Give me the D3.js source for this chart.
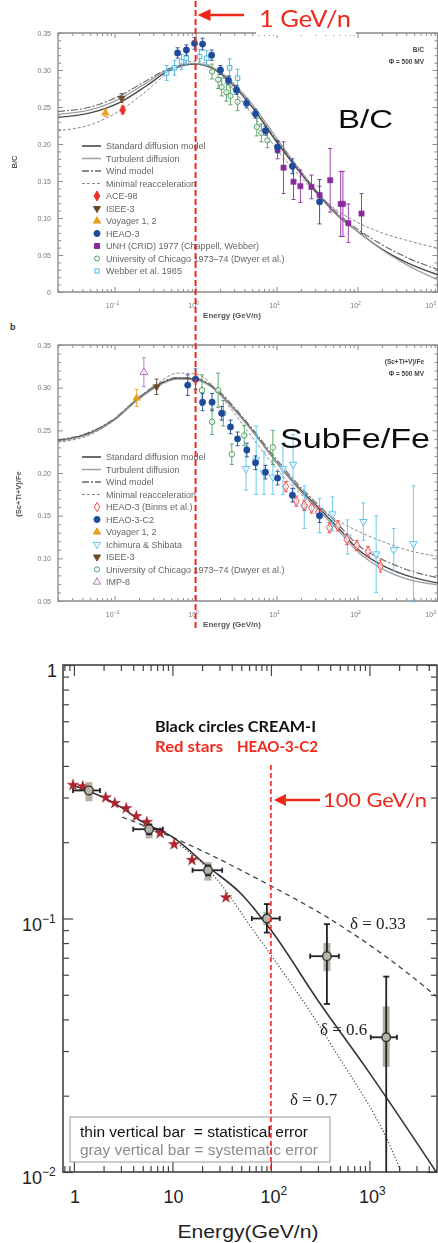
<!DOCTYPE html>
<html><head><meta charset="utf-8">
<script src="https://cdn.jsdelivr.net/npm/d3@7"></script>
<style>body{margin:0;background:#fff} svg{display:block}</style>
</head><body>
<svg id="c" width="438" height="1243"></svg>
<script>
// ================= DATA =================
// ---- Panel a : B/C ----
const topXMajor = [0.1, 1, 10, 100, 1000];
const topXExp = ["-1", "0", "1", "2", "3"];
const bcYTicks = [0, 0.05, 0.10, 0.15, 0.20, 0.25, 0.30, 0.35];
const bcLegend = ["Standard diffusion model","Turbulent diffusion","Wind model","Minimal reacceleration","ACE-98","ISEE-3","Voyager 1, 2","HEAO-3","UNH (CRID) 1977 (Chappell, Webber)","University of Chicago 1973\u201374 (Dwyer et al.)","Webber et al. 1985"];

const bcModelE    = [0.02,0.05,0.12,0.25,0.45,0.7,1,1.5,2,3,5,10,20,35,60,100,200,400,1000];
const bcStandard  = [0.236,0.242,0.257,0.279,0.298,0.306,0.308,0.304,0.296,0.278,0.250,0.203,0.160,0.128,0.101,0.082,0.058,0.040,0.023];
const bcTurbulent = [0.240,0.246,0.262,0.283,0.300,0.307,0.309,0.305,0.298,0.281,0.254,0.208,0.163,0.130,0.102,0.082,0.057,0.037,0.016];
const bcWind      = [0.244,0.250,0.266,0.286,0.301,0.307,0.308,0.304,0.296,0.278,0.250,0.205,0.162,0.130,0.104,0.085,0.064,0.047,0.030];
const bcMinimal   = [0.218,0.226,0.246,0.272,0.296,0.309,0.312,0.306,0.295,0.272,0.240,0.193,0.155,0.128,0.108,0.094,0.080,0.070,0.059];

const bcAceE = [0.126], bcAceV = [0.246], bcAceErr = [0.005];
const bcIseeE = [0.122], bcIseeV = [0.262], bcIseeErr = [0.006];
const bcVoyE = [0.077], bcVoyV = [0.242], bcVoyErr = [0.005];
const bcHeaoE = [0.60,0.77,0.97,1.22,1.58,2.03,2.55,3.2,4.26,5.5,7.3,10.3,15.7,34];
const bcHeaoV = [0.323,0.327,0.336,0.335,0.320,0.300,0.286,0.273,0.255,0.241,0.218,0.196,0.170,0.122];
const bcHeaoErr = [0.007,0.007,0.008,0.008,0.007,0.006,0.006,0.006,0.006,0.006,0.006,0.008,0.010,0.030];
const bcUnhE = [10.3,12.2,16.2,19.7,27,34,46,62,66,77,112];
const bcUnhV = [0.192,0.168,0.149,0.143,0.142,0.131,0.151,0.119,0.119,0.093,0.106];
const bcUnhErr = [0.012,0.035,0.024,0.022,0.016,0.012,0.043,0.044,0.044,0.026,0.027];
const bcChiE = [1.6,1.9,2.1,2.4,2.7,3.3,5.7,6.5,7.7];
const bcChiV = [0.298,0.287,0.277,0.270,0.265,0.257,0.223,0.215,0.205];
const bcChiErr = [0.010,0.012,0.012,0.012,0.012,0.012,0.012,0.012,0.010];
const bcWebE = [0.44,0.55,0.67,0.77,1.12,1.37,2.63,3.3];
const bcWebV = [0.296,0.303,0.311,0.316,0.318,0.316,0.303,0.289];
const bcWebErr = [0.010,0.010,0.010,0.010,0.010,0.010,0.012,0.012];

// ---- Panel b : (Sc+Ti+V)/Fe ----
const sfYTicks = [0.05, 0.10, 0.15, 0.20, 0.25, 0.30, 0.35];
const sfLegend = ["Standard diffusion model","Turbulent diffusion","Wind model","Minimal reacceleration","HEAO-3 (Binns et al.)","HEAO-3-C2","Voyager 1, 2","Ichimura & Shibata","ISEE-3","University of Chicago 1973\u201374 (Dwyer et al.)","IMP-8"];

const sfModelE    = [0.02,0.05,0.1,0.19,0.33,0.6,1,1.5,2,3,5,10,20,35,60,100,200,400,1000];
const sfStandard  = [0.238,0.247,0.263,0.286,0.302,0.311,0.310,0.303,0.293,0.275,0.250,0.213,0.180,0.157,0.134,0.111,0.092,0.080,0.071];
const sfTurbulent = [0.237,0.246,0.262,0.285,0.301,0.310,0.309,0.302,0.292,0.274,0.249,0.212,0.178,0.154,0.131,0.108,0.088,0.076,0.069];
const sfWind      = [0.239,0.248,0.264,0.287,0.303,0.312,0.311,0.304,0.295,0.277,0.252,0.216,0.183,0.160,0.138,0.116,0.099,0.087,0.077];
const sfMinimal   = [0.236,0.245,0.262,0.287,0.304,0.317,0.316,0.306,0.292,0.270,0.242,0.205,0.175,0.157,0.143,0.132,0.120,0.110,0.102];

const sfBinnsE = [13,17.6,22,27,33,45,57,74,98,135,192];
const sfBinnsV = [0.184,0.167,0.162,0.159,0.154,0.136,0.138,0.122,0.115,0.108,0.091];
const sfBinnsErr = [0.006,0.006,0.006,0.006,0.006,0.006,0.006,0.006,0.006,0.006,0.007];
const sfC2E = [0.8,1.0,1.22,1.6,2.1,2.7,3.3,4.3,5.5,7.3,10.3,15.7,34];
const sfC2V = [0.303,0.310,0.283,0.283,0.270,0.254,0.240,0.227,0.212,0.201,0.194,0.174,0.150];
const sfC2Err = [0.012,0.012,0.010,0.010,0.008,0.008,0.008,0.008,0.008,0.008,0.008,0.008,0.008];
const sfVoyE = [0.187], sfVoyV = [0.288], sfVoyErr = [0.010];
const sfIchE = [4.2,5.6,7.0,9.0,12,16,22,34,49,75,118,170,280,490];
const sfIchV = [0.205,0.215,0.200,0.195,0.205,0.210,0.160,0.150,0.152,0.125,0.143,0.105,0.110,0.117];
const sfIchErr = [0.025,0.040,0.025,0.020,0.030,0.035,0.025,0.020,0.020,0.020,0.022,0.045,0.025,0.068];
const sfIseeE = [0.33], sfIseeV = [0.301], sfIseeErr = [0.009];
const sfChiE = [1.2,1.6,1.9,2.2,2.8,4.0,9.0];
const sfChiV = [0.297,0.260,0.297,0.270,0.222,0.244,0.230];
const sfChiErr = [0.018,0.015,0.020,0.015,0.012,0.012,0.020];
const sfImpE = [0.23], sfImpV = [0.318], sfImpErr = [0.017];

// ---- Panel c : CREAM-I ----
const cXMajor = [1, 10, 100, 1000];
const cXLabels = [["1",""],["10",""],["10","2"],["10","3"]];
const cYMajor = [1, 0.1, 0.01];
const cYLabels = [["1",""],["10","-1"],["10","-2"]];
const creamE = [1.42,5.8,23,91,370,1480];
const creamV = [0.32,0.225,0.155,0.10,0.071,0.034];
const creamELo = [0.98,4.0,16,64,250,1030];
const creamEHi = [1.84,8.0,32,123,490,1900];
const creamStatLo = [0.31,0.215,0.148,0.088,0.046,0.0095];
const creamStatHi = [0.33,0.235,0.162,0.114,0.095,0.059];
const creamSysLo = [0.29,0.207,0.141,0.094,0.062,0.026];
const creamSysHi = [0.345,0.237,0.167,0.106,0.080,0.045];
const heaoC2E = [0.98,1.23,2.1,2.6,3.4,4.3,5.5,7.5,10.4,15.8,35];
const heaoC2V = [0.336,0.332,0.300,0.285,0.272,0.253,0.240,0.217,0.196,0.170,0.121];
const d06E = [1,2,3,5,10,23,50,100,300,1000,4850];
const d06V = [0.335,0.300,0.275,0.240,0.210,0.160,0.125,0.090,0.0475,0.0246,0.0099];
const d033E = [3.1,10,98,390,4400,4850];
const d033V = [0.251,0.209,0.135,0.100,0.0506,0.049];
const d07E = [12,25,66,425,2030,2200];
const d07V = [0.195,0.151,0.090,0.031,0.0103,0.0095];

// ================= DRAWING =================
const zip = (a, b, c) => a.map((v, i) => [v, b[i], c ? c[i] : 0]);
const svg = d3.select("#c");
svg.append("rect").attr("width", 438).attr("height", 1243).attr("fill", "#fff");
const defs = svg.append("defs");
const soft = defs.append("filter").attr("id", "soft").attr("x", "-5%").attr("y", "-5%").attr("width", "110%").attr("height", "110%");
soft.append("feGaussianBlur").attr("stdDeviation", 0.35);

const sans = "Liberation Sans, Arial, Helvetica, sans-serif";

function supText(sel, base, exp, fs, sfs, dy) {
  sel.text(null);
  sel.append("tspan").text(base);
  if (exp) sel.append("tspan").attr("font-size", sfs).attr("dy", -dy).text(exp.replace("-", "\u2212"));
}

const lineStyles = {
  standard: {stroke: "#4a4a4a", w: 1.4, dash: null},
  turbulent: {stroke: "#a0a0a0", w: 1.3, dash: null},
  wind: {stroke: "#666", w: 1.1, dash: "7,2,2,2"},
  minimal: {stroke: "#8a8a8a", w: 1.0, dash: "3,2"}
};

function symPath(type, size) { return d3.symbol().type(type).size(size)(); }

function drawTopPanel(cfg) {
  const L = 58, R = 438.5;
  const x = d3.scaleLog().domain([0.02, 1000]).range([L, R]);
  const y = d3.scaleLinear().domain(cfg.yDomain).range([cfg.yB, cfg.yT]);
  const g = svg.append("g").attr("filter", "url(#soft)");
  const clipId = "clip-" + cfg.id;
  defs.append("clipPath").attr("id", clipId).append("rect")
    .attr("x", L).attr("y", cfg.yT).attr("width", R - L).attr("height", cfg.yB - cfg.yT);

  const tickCol = "#8c8c8c";
  const minorX = x.ticks().filter(v => !topXMajor.some(m => Math.abs(m - v) / m < 1e-6));
  const styleAx = a => { a.select(".domain").remove(); a.selectAll("line").attr("stroke", tickCol).attr("stroke-width", 1); };
  [[d3.axisBottom, cfg.yB], [d3.axisTop, cfg.yT]].forEach(([fn, ty]) => {
    g.append("g").attr("transform", `translate(0,${ty})`).call(fn(x).tickValues(minorX).tickSize(-3).tickFormat("")).call(styleAx);
    g.append("g").attr("transform", `translate(0,${ty})`).call(fn(x).tickValues(topXMajor).tickSize(-5).tickFormat("")).call(styleAx);
  });
  const minorY = y.ticks(30).filter(v => !cfg.yTicks.some(m => Math.abs(m - v) < 1e-6));
  [[d3.axisLeft, L], [d3.axisRight, 437.5]].forEach(([fn, tx]) => {
    g.append("g").attr("transform", `translate(${tx},0)`).call(fn(y).tickValues(minorY).tickSize(-3).tickFormat("")).call(styleAx);
    g.append("g").attr("transform", `translate(${tx},0)`).call(fn(y).tickValues(cfg.yTicks).tickSize(-5).tickFormat("")).call(styleAx);
  });
  // frame
  g.append("path").attr("d", `M${R},${cfg.yT}H${L}V${cfg.yB}H${R}`).attr("fill", "none").attr("stroke", "#8a8a8a").attr("stroke-width", 1.3);
  g.append("line").attr("x1", 437.5).attr("x2", 437.5).attr("y1", cfg.yT).attr("y2", cfg.yB).attr("stroke", "#8a8a8a").attr("stroke-width", 1.3);

  // tick labels
  g.append("g").selectAll("text").data(cfg.yTicks).join("text")
    .attr("x", 51).attr("y", d => y(d) + 2.5).attr("text-anchor", "end")
    .attr("font-family", sans).attr("font-size", 7).attr("fill", "#777")
    .text(d => d === 0 ? "0" : d.toFixed(2));
  g.append("g").selectAll("text").data(topXMajor).join("text")
    .attr("x", (d, i) => i === topXMajor.length - 1 ? 436 : x(d) - 2).attr("y", cfg.yB + 16)
    .attr("text-anchor", (d, i) => i === topXMajor.length - 1 ? "end" : "middle")
    .attr("font-family", sans).attr("font-size", 7).attr("fill", "#777")
    .each(function (d, i) { supText(d3.select(this), "10", topXExp[i], 5, 5, 3); });
  g.append("text").attr("x", 232).attr("y", cfg.yB + 26).attr("text-anchor", "middle")
    .attr("font-family", sans).attr("font-weight", "bold").attr("font-size", 8).attr("fill", "#555").text("Energy (GeV/n)");
  g.append("text").attr("transform", `translate(${cfg.ylabX},${cfg.ylabY}) rotate(-90)`).attr("text-anchor", "middle")
    .attr("font-family", sans).attr("font-weight", "bold").attr("font-size", 7.5).attr("fill", "#555").text(cfg.yLabel);
  // corner note
  g.append("text").attr("x", 424).attr("y", cfg.yT + 19).attr("text-anchor", "end")
    .attr("font-family", sans).attr("font-weight", "bold").attr("font-size", 6.5).attr("fill", "#444").text(cfg.note1);
  g.append("text").attr("x", 424).attr("y", cfg.yT + 31).attr("text-anchor", "end")
    .attr("font-family", sans).attr("font-weight", "bold").attr("font-size", 6.5).attr("fill", "#444").text("\u03A6 = 500 MV");

  // model curves
  const line = d3.line().x(d => x(d[0])).y(d => y(d[1])).curve(d3.curveMonotoneX);
  const cg = g.append("g").attr("clip-path", `url(#${clipId})`);
  cfg.models.forEach(m => {
    const s = lineStyles[m.style];
    cg.append("path").attr("d", line(zip(cfg.modelE, m.v))).attr("fill", "none")
      .attr("stroke", s.stroke).attr("stroke-width", s.w).attr("stroke-dasharray", s.dash);
  });

  // data series
  const pg = g.append("g");
  cfg.series.forEach(s => {
    const pts = zip(s.e, s.v, s.err);
    const sg = pg.append("g");
    sg.selectAll("g.eb").data(pts).join("g").attr("class", "eb").each(function (d) {
      const e = d3.select(this), px = x(d[0]), y1 = y(d[1] - d[2]), y2 = y(d[1] + d[2]);
      e.append("line").attr("x1", px).attr("x2", px).attr("y1", y1).attr("y2", y2);
      e.append("line").attr("x1", px - 2).attr("x2", px + 2).attr("y1", y1).attr("y2", y1);
      e.append("line").attr("x1", px - 2).attr("x2", px + 2).attr("y1", y2).attr("y2", y2);
    }).attr("stroke", s.color).attr("stroke-width", 0.9);
    sg.selectAll("path").data(pts).join("path")
      .attr("d", symPath(s.type, s.size))
      .attr("transform", d => `translate(${x(d[0])},${y(d[1])})${s.down ? " rotate(180)" : ""}`)
      .attr("fill", s.open ? "#fff" : s.color).attr("fill-opacity", s.open ? 0.6 : 1)
      .attr("stroke", s.color).attr("stroke-width", s.open ? 1 : 0.5);
  });

  // legend
  const lg = g.append("g");
  cfg.legend.forEach((t, i) => {
    const ly = cfg.legY + i * 12.5;
    lg.append("text").attr("x", 106).attr("y", ly + 3).attr("font-family", sans).attr("font-size", 9)
      .attr("fill", "#666").text(t);
    if (i < 4) {
      const s = lineStyles[cfg.models[i].style];
      lg.append("line").attr("x1", 82).attr("x2", 101).attr("y1", ly).attr("y2", ly)
        .attr("stroke", s.stroke).attr("stroke-width", s.w + 0.2).attr("stroke-dasharray", s.dash);
    } else {
      const s = cfg.series[cfg.legendSeries[i - 4]];
      lg.append("path").attr("d", symPath(s.type, s.size * 0.9))
        .attr("transform", `translate(97,${ly})${s.down ? " rotate(180)" : ""}`)
        .attr("fill", s.open ? "#fff" : s.color).attr("stroke", s.color).attr("stroke-width", 1);
    }
  });
  // big title
  g.append("text").attr("x", cfg.bigX).attr("y", cfg.bigY).attr("font-family", sans).attr("font-size", cfg.bigSize)
    .attr("fill", "#111").attr("textLength", cfg.bigLen).attr("lengthAdjust", "spacingAndGlyphs").text(cfg.bigText);
  return {x, y};
}

const colors = {ace: "#e8302a", isee: "#6b4a2a", voy: "#e8a020", heao: "#1d4b9c", unh: "#8b2c9c",
  chi: "#4f9e5e", web: "#4ab3e6", binns: "#f05050", ich: "#5cc3f0", imp: "#b070c0"};

// Panel a
const pa = drawTopPanel({
  id: "a", yDomain: [0, 0.35], yT: 33, yB: 292, yTicks: bcYTicks,
  yLabel: "B/C", ylabX: 17, ylabY: 162, note1: "B/C",
  modelE: bcModelE,
  models: [{v: bcStandard, style: "standard"}, {v: bcTurbulent, style: "turbulent"}, {v: bcWind, style: "wind"}, {v: bcMinimal, style: "minimal"}],
  series: [
    {e: bcChiE, v: bcChiV, err: bcChiErr, type: d3.symbolCircle, size: 22, color: colors.chi, open: true},
    {e: bcWebE, v: bcWebV, err: bcWebErr, type: d3.symbolSquare, size: 20, color: colors.web, open: true},
    {e: bcUnhE, v: bcUnhV, err: bcUnhErr, type: d3.symbolSquare, size: 28, color: colors.unh},
    {e: bcHeaoE, v: bcHeaoV, err: bcHeaoErr, type: d3.symbolCircle, size: 32, color: colors.heao},
    {e: bcAceE, v: bcAceV, err: bcAceErr, type: d3.symbolDiamond, size: 32, color: colors.ace},
    {e: bcIseeE, v: bcIseeV, err: bcIseeErr, type: d3.symbolTriangle, size: 24, color: colors.isee, down: true},
    {e: bcVoyE, v: bcVoyV, err: bcVoyErr, type: d3.symbolTriangle, size: 26, color: colors.voy}
  ],
  legend: bcLegend, legY: 146, legendSeries: [4, 5, 6, 3, 2, 0, 1],
  bigText: "B/C", bigX: 338, bigY: 128, bigSize: 25, bigLen: 55
});

// Panel b
const pb = drawTopPanel({
  id: "b", yDomain: [0.05, 0.35], yT: 345, yB: 601, yTicks: sfYTicks,
  yLabel: "(Sc+Ti+V)/Fe", ylabX: 21, ylabY: 494, note1: "(Sc+Ti+V)/Fe",
  modelE: sfModelE,
  models: [{v: sfStandard, style: "standard"}, {v: sfTurbulent, style: "turbulent"}, {v: sfWind, style: "wind"}, {v: sfMinimal, style: "minimal"}],
  series: [
    {e: sfIchE, v: sfIchV, err: sfIchErr, type: d3.symbolTriangle, size: 24, color: colors.ich, down: true, open: true},
    {e: sfChiE, v: sfChiV, err: sfChiErr, type: d3.symbolCircle, size: 24, color: colors.chi, open: true},
    {e: sfBinnsE, v: sfBinnsV, err: sfBinnsErr, type: d3.symbolDiamond, size: 28, color: colors.binns, open: true},
    {e: sfC2E, v: sfC2V, err: sfC2Err, type: d3.symbolCircle, size: 32, color: colors.heao},
    {e: sfVoyE, v: sfVoyV, err: sfVoyErr, type: d3.symbolTriangle, size: 26, color: colors.voy},
    {e: sfIseeE, v: sfIseeV, err: sfIseeErr, type: d3.symbolTriangle, size: 24, color: colors.isee, down: true},
    {e: sfImpE, v: sfImpV, err: sfImpErr, type: d3.symbolTriangle, size: 26, color: colors.imp, open: true}
  ],
  legend: sfLegend, legY: 457, legendSeries: [2, 3, 4, 0, 5, 1, 6],
  bigText: "SubFe/Fe", bigX: 280, bigY: 448, bigSize: 28, bigLen: 150
});
svg.append("text").attr("x", 10).attr("y", 330).attr("font-family", sans).attr("font-weight", "bold")
  .attr("font-size", 9).attr("fill", "#333").text("b");

// ---------- Panel c ----------
(function () {
  const L = 63, R = 437, T = 665, B = 1172;
  const x = d3.scaleLog().domain([0.775, 4850]).range([L, R]);
  const y = d3.scaleLog().domain([0.01, 1]).range([B, T]);
  const g = svg.append("g");
  const frameCol = "#444";
  defs.append("clipPath").attr("id", "clip-c").append("rect").attr("x", L).attr("y", T).attr("width", R - L).attr("height", B - T);
  const styleAx = a => { a.select(".domain").remove(); a.selectAll("line").attr("stroke", frameCol).attr("stroke-width", 1.2); };
  const minorX = x.ticks().filter(v => !cXMajor.some(m => Math.abs(m - v) / m < 1e-6));
  [[d3.axisBottom, B], [d3.axisTop, T]].forEach(([fn, ty]) => {
    g.append("g").attr("transform", `translate(0,${ty})`).call(fn(x).tickValues(minorX).tickSize(-6).tickFormat("")).call(styleAx);
    g.append("g").attr("transform", `translate(0,${ty})`).call(fn(x).tickValues(cXMajor).tickSize(-11).tickFormat("")).call(styleAx);
  });
  const minorY = y.ticks().filter(v => !cYMajor.some(m => Math.abs(m - v) / m < 1e-6));
  [[d3.axisLeft, L], [d3.axisRight, R]].forEach(([fn, tx]) => {
    g.append("g").attr("transform", `translate(${tx},0)`).call(fn(y).tickValues(minorY).tickSize(-6).tickFormat("")).call(styleAx);
    g.append("g").attr("transform", `translate(${tx},0)`).call(fn(y).tickValues(cYMajor).tickSize(-10).tickFormat("")).call(styleAx);
  });
  g.append("rect").attr("x", L).attr("y", T).attr("width", R - L).attr("height", B - T)
    .attr("fill", "none").attr("stroke", frameCol).attr("stroke-width", 1.6);

  // tick labels
  g.append("g").selectAll("text").data(cXMajor).join("text")
    .attr("x", (d, i) => x(d) + (i > 1 ? 3 : 1)).attr("y", B + 31).attr("text-anchor", "middle")
    .attr("font-family", sans).attr("font-size", 18).attr("fill", "#222")
    .each(function (d, i) { supText(d3.select(this), cXLabels[i][0], cXLabels[i][1], 12, 12, 8); });
  g.append("g").selectAll("text").data(cYMajor).join("text")
    .attr("x", (d, i) => i === 0 ? 57 : 22).attr("y", d => y(d) + 12)
    .attr("text-anchor", (d, i) => i === 0 ? "end" : "start")
    .attr("font-family", sans).attr("font-size", 18).attr("fill", "#222")
    .each(function (d, i) { supText(d3.select(this), cYLabels[i][0], cYLabels[i][1], 12, 12, 8); });
  g.append("text").attr("x", 248).attr("y", 1238).attr("text-anchor", "middle").attr("font-family", sans)
    .attr("font-size", 18).attr("fill", "#222").attr("textLength", 141).attr("lengthAdjust", "spacingAndGlyphs").text("Energy(GeV/n)");

  // model lines
  const line = d3.line().x(d => x(d[0])).y(d => y(d[1])).curve(d3.curveMonotoneX);
  const cg = g.append("g").attr("clip-path", "url(#clip-c)");
  cg.append("path").attr("d", line(zip(d033E, d033V))).attr("fill", "none").attr("stroke", "#444").attr("stroke-width", 1.3).attr("stroke-dasharray", "5,4");
  cg.append("path").attr("d", line(zip(d07E, d07V))).attr("fill", "none").attr("stroke", "#444").attr("stroke-width", 1.2).attr("stroke-dasharray", "1.2,2");
  cg.append("path").attr("d", line(zip(d06E, d06V))).attr("fill", "none").attr("stroke", "#333").attr("stroke-width", 1.6);

  // HEAO-3-C2 stars
  g.append("g").selectAll("path").data(zip(heaoC2E, heaoC2V)).join("path")
    .attr("d", symPath(d3.symbolStar, 40)).attr("transform", d => `translate(${x(d[0])},${y(d[1])})`)
    .attr("fill", "#b3232d").attr("stroke", "#8e1a22").attr("stroke-width", 0.4);

  // CREAM-I
  const cream = creamE.map((e, i) => ({e, v: creamV[i], elo: creamELo[i], ehi: creamEHi[i], slo: creamStatLo[i], shi: creamStatHi[i], ylo: creamSysLo[i], yhi: creamSysHi[i]}));
  const cr = g.append("g").attr("clip-path", "url(#clip-c)");
  cr.selectAll("rect").data(cream).join("rect")
    .attr("x", d => x(d.e) - 3.5).attr("width", 7).attr("y", d => y(d.yhi)).attr("height", d => y(d.ylo) - y(d.yhi))
    .attr("fill", "#a8a293").attr("opacity", 0.85);
  const eb = cr.selectAll("g.eb").data(cream).join("g").attr("class", "eb").attr("stroke", "#222").attr("stroke-width", 1.8);
  eb.append("line").attr("x1", d => x(d.e)).attr("x2", d => x(d.e)).attr("y1", d => y(d.slo)).attr("y2", d => y(d.shi));
  eb.append("line").attr("x1", d => x(d.e) - 3).attr("x2", d => x(d.e) + 3).attr("y1", d => y(d.shi)).attr("y2", d => y(d.shi));
  eb.append("line").attr("x1", d => x(d.e) - 3).attr("x2", d => x(d.e) + 3).attr("y1", d => y(d.slo)).attr("y2", d => y(d.slo));
  eb.append("line").attr("x1", d => x(d.elo)).attr("x2", d => x(d.ehi)).attr("y1", d => y(d.v)).attr("y2", d => y(d.v));
  eb.append("line").attr("x1", d => x(d.elo)).attr("x2", d => x(d.elo)).attr("y1", d => y(d.v) - 2.5).attr("y2", d => y(d.v) + 2.5);
  eb.append("line").attr("x1", d => x(d.ehi)).attr("x2", d => x(d.ehi)).attr("y1", d => y(d.v) - 2.5).attr("y2", d => y(d.v) + 2.5);
  cr.selectAll("circle").data(cream).join("circle").attr("cx", d => x(d.e)).attr("cy", d => y(d.v)).attr("r", 4.3)
    .attr("fill", "#b9b4a8").attr("stroke", "#333").attr("stroke-width", 1.4);

  // delta labels
  const serif = "Liberation Serif, Times New Roman, serif";
  [["\u03B4 = 0.33", 350, 929], ["\u03B4 = 0.6", 320, 1035], ["\u03B4 = 0.7", 290, 1105]].forEach(([t, tx, ty]) => {
    g.append("text").attr("x", tx).attr("y", ty).attr("font-family", serif).attr("font-size", 17).attr("fill", "#222").text(t);
  });

  // legend box
  g.append("rect").attr("x", 70).attr("y", 1117).attr("width", 260).attr("height", 45)
    .attr("fill", "#fff").attr("stroke", "#999").attr("stroke-width", 1);
  g.append("text").attr("x", 80).attr("y", 1137).attr("font-family", sans).attr("font-size", 14).attr("fill", "#111")
    .attr("textLength", 228).attr("lengthAdjust", "spacingAndGlyphs").attr("xml:space", "preserve").text("thin vertical bar  = statistical error");
  g.append("text").attr("x", 80).attr("y", 1155).attr("font-family", sans).attr("font-size", 14).attr("fill", "#8a8a8a")
    .attr("textLength", 238).attr("lengthAdjust", "spacingAndGlyphs").text("gray vertical bar = systematic error");

  // legend text
  const bold = "Lato, Open Sans, sans-serif";
  g.append("text").attr("x", 155).attr("y", 732).attr("font-family", bold).attr("font-weight", "bold").attr("font-size", 16)
    .attr("fill", "#111").attr("textLength", 161).attr("lengthAdjust", "spacingAndGlyphs").text("Black circles CREAM-I");
  g.append("text").attr("x", 155).attr("y", 752).attr("font-family", bold).attr("font-weight", "bold").attr("font-size", 16)
    .attr("fill", "#f0281a").attr("textLength", 68).attr("lengthAdjust", "spacingAndGlyphs").text("Red stars");
  g.append("text").attr("x", 237).attr("y", 752).attr("font-family", bold).attr("font-weight", "bold").attr("font-size", 16)
    .attr("fill", "#f0281a").attr("textLength", 81).attr("lengthAdjust", "spacingAndGlyphs").text("HEAO-3-C2");

  // 100 GeV/n marker
  const red = "#f0281a";
  g.append("line").attr("x1", x(100)).attr("x2", x(100)).attr("y1", 765).attr("y2", B)
    .attr("stroke", red).attr("stroke-width", 1.6).attr("stroke-dasharray", "5,3");
  g.append("line").attr("x1", x(100) + 12).attr("x2", 320).attr("y1", 800).attr("y2", 800).attr("stroke", red).attr("stroke-width", 2.5);
  g.append("path").attr("d", `M${x(100) + 3},800 L${x(100) + 15},794 L${x(100) + 15},806 Z`).attr("fill", red);
  g.append("text").attr("x", 323).attr("y", 807).attr("font-family", bold).attr("font-size", 20).attr("fill", red)
    .attr("textLength", 104).attr("lengthAdjust", "spacingAndGlyphs").text("100 GeV/n");
})();

// ---------- 1 GeV/n marker across panels a and b ----------
(function () {
  const red = "#f0281a";
  const x1 = pa.x(1);
  svg.append("rect").attr("x", 256).attr("y", 0).attr("width", 100).attr("height", 35).attr("fill", "#fff");
  svg.append("line").attr("x1", x1).attr("x2", x1).attr("y1", 1).attr("y2", 631)
    .attr("stroke", red).attr("stroke-width", 2).attr("stroke-dasharray", "6,3");
  svg.append("line").attr("x1", x1 + 12).attr("x2", 244).attr("y1", 15).attr("y2", 15).attr("stroke", red).attr("stroke-width", 2.5);
  svg.append("path").attr("d", `M${x1 + 2},15 L${x1 + 15},9 L${x1 + 15},21 Z`).attr("fill", red);
  svg.append("text").attr("x", 259).attr("y", 27).attr("font-family", "Lato, Open Sans, sans-serif").attr("font-size", 23)
    .attr("fill", red).attr("textLength", 92).attr("lengthAdjust", "spacingAndGlyphs").text("1 GeV/n");
})();
</script>
</body></html>
